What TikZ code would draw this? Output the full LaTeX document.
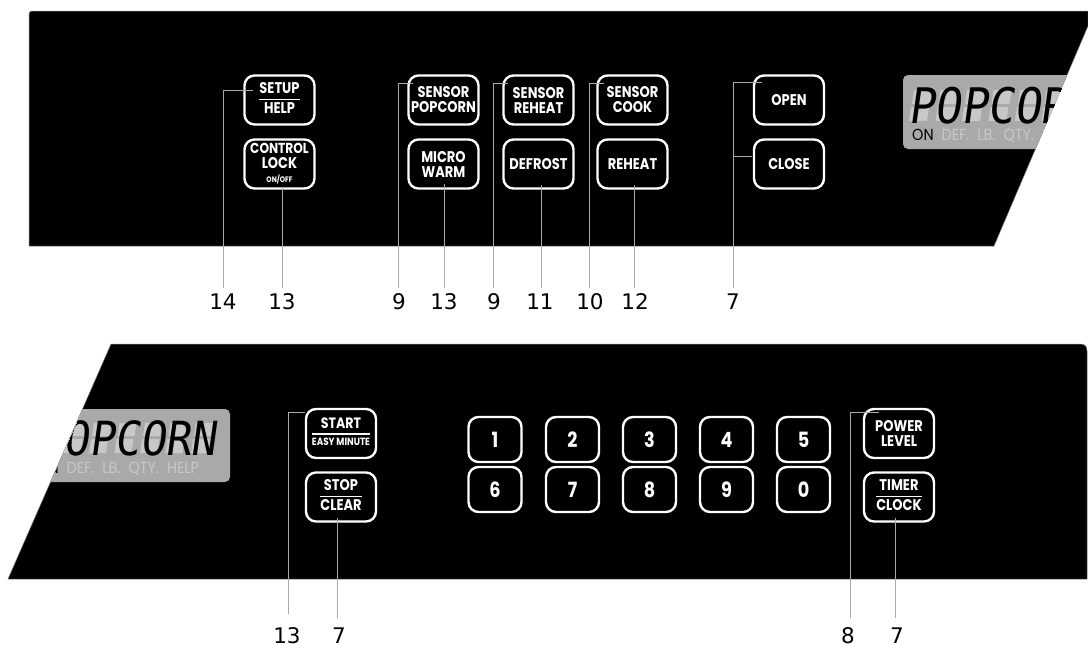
\documentclass[tikz,border=0pt]{standalone}
\usepackage{fontspec}
\usepackage{array}
\setmainfont{DejaVu Sans}
\newfontfamily\btnf[FakeStretch=0.84]{Poppins}
\newfontfamily\lcdf[FakeStretch=0.9,FakeSlant=0.14]{DejaVu Sans Mono}
\newfontfamily\lcdsmall[FakeStretch=0.9]{Poppins}
\newcommand{\btnfr}[2]{\setlength{\arrayrulewidth}{1.6pt}\renewcommand{\arraystretch}{0.8}\setlength{\tabcolsep}{0pt}\begin{tabular}{c}#1\\[1.5pt]\hline\noalign{\vskip 2.5pt}#2\end{tabular}}
\newcommand{\smalltxt}[1]{{\fontsize{8}{8}\selectfont #1}}
\newcommand{\lcdrow}{ON\textcolor{ghost}{\hspace{8pt}DEF.\hspace{8pt}LB.\hspace{8pt}QTY.\hspace{8pt}HELP}}
\definecolor{lcdgray}{HTML}{A9A9A9}
\definecolor{ghost}{HTML}{C8C8C8}
\definecolor{leadgray}{HTML}{AAAAAA}
\tikzset{
  panel/.style={fill=black,draw=gray,line width=0.5pt},
  btn/.style={draw=white,line width=2.4pt,rounded corners=10pt,text=white,inner sep=0pt,minimum width=70pt,minimum height=49pt,align=center,font=\btnf\bfseries\fontsize{15.5}{15}\selectfont},
  keybtn/.style={btn,minimum width=53pt,minimum height=45pt,font=\btnf\bfseries\fontsize{21}{22}\selectfont},
  leader/.style={draw=leadgray,line width=1pt},
  reflabel/.style={font=\fontsize{21.5}{21.5}\selectfont,text=black,inner sep=0pt},
  lcdbox/.style={fill=lcdgray,rounded corners=5pt},
  lcdword/.style={inner sep=0pt,text=black}
}
\begin{document}
\begin{tikzpicture}[x=1pt,y=-1pt]
\useasboundingbox (0,0) rectangle (1088,645);
\fill[white] (0,0) rectangle (1088,645);
% panels
\path[panel] (29,246) -- (29,14) [rounded corners=3pt] -- (29,11) [sharp corners] -- (1088,11) -- (1088,26) -- (994,246) -- cycle;
\path[panel] (8,579) -- (111,344) -- (1080,344) .. controls (1085,344) and (1087,346) .. (1087,351) -- (1087,579) -- cycle;
% top display
\begin{scope}
\clip (29,246) -- (29,11) -- (1088,11) -- (1088,26) -- (994,246) -- cycle;
\fill[lcdbox] (903,75) rectangle (1100,149);
\foreach \i in {0,...,6}{
  \fill[ghost] ({914+26.5*\i},90) -- ({932+26.5*\i},90) -- ({930+26.5*\i},104) -- ({912+26.5*\i},104) -- cycle;
  \fill[ghost] ({911+26.5*\i},107) -- ({929+26.5*\i},107) -- ({927+26.5*\i},121) -- ({909+26.5*\i},121) -- cycle;
}
\node[lcdword,anchor=base west,font=\lcdf\fontsize{49}{49}\selectfont] (lcdtop) at (908,123) {POPCORN};
\node[lcdword,anchor=base west,font=\lcdsmall\fontsize{16}{16}\selectfont] (lcdtopsub) at (912,140.5) {\lcdrow};
\end{scope}
% bottom display
\begin{scope}
\clip (8,579) -- (111,344) -- (1087,344) -- (1087,579) -- cycle;
\fill[lcdbox] (0,409) rectangle (230,482);
\foreach \i in {0,...,6}{
  \fill[ghost] ({43+25.5*\i},423) -- ({60+25.5*\i},423) -- ({58+25.5*\i},436) -- ({41+25.5*\i},436) -- cycle;
  \fill[ghost] ({40+25.5*\i},439) -- ({57+25.5*\i},439) -- ({55+25.5*\i},453) -- ({38+25.5*\i},453) -- cycle;
}
\node[lcdword,anchor=base west,font=\lcdf\fontsize{47}{47}\selectfont] (lcdbot) at (38,455) {POPCORN};
\node[lcdword,anchor=base west,font=\lcdsmall\fontsize{16}{16}\selectfont] (lcdbotsub) at (37,473.5) {\lcdrow};
\end{scope}
% top buttons
\node[btn] (setup) at (279.5,100) {\btnfr{SETUP}{HELP}};
\node[btn] (lock) at (279.5,164) {\fontsize{14.5}{14.5}\selectfont CONTROL\\LOCK\\[-1pt]\smalltxt{ON/OFF}};
\node[btn] (spop) at (443.5,100) {SENSOR\\POPCORN};
\node[btn] (micro) at (443.5,164) {MICRO\\WARM};
\node[btn] (srh) at (538.5,100) {SENSOR\\REHEAT};
\node[btn] (defrost) at (538.5,164) {DEFROST};
\node[btn] (scook) at (632.5,100) {SENSOR\\COOK};
\node[btn] (reheat) at (632.5,164) {REHEAT};
\node[btn] (open) at (789,100) {OPEN};
\node[btn] (close) at (789,164) {CLOSE};
% bottom buttons
\node[btn] (start) at (341,433.5) {\btnfr{\fontsize{15}{15}\selectfont START}{\fontsize{10.5}{11}\selectfont EASY MINUTE}};
\node[btn] (stop) at (341,497) {\btnfr{STOP}{CLEAR}};
\node[keybtn] (k1) at (495,439.5) {1};
\node[keybtn] (k2) at (572.5,439.5) {2};
\node[keybtn] (k3) at (649.5,439.5) {3};
\node[keybtn] (k4) at (726.5,439.5) {4};
\node[keybtn] (k5) at (803.5,439.5) {5};
\node[keybtn] (k6) at (495,489.5) {6};
\node[keybtn] (k7) at (572.5,489.5) {7};
\node[keybtn] (k8) at (649.5,489.5) {8};
\node[keybtn] (k9) at (726.5,489.5) {9};
\node[keybtn] (k0) at (803.5,489.5) {0};
\node[btn] (power) at (899,433.5) {POWER\\LEVEL};
\node[btn] (timer) at (899,497) {\btnfr{TIMER}{CLOCK}};
% reference labels
\node[reflabel] (l14) at (223,302) {14};
\node[reflabel] (l13a) at (282,302) {13};
\node[reflabel] (l9a) at (399,302) {9};
\node[reflabel] (l13b) at (444,302) {13};
\node[reflabel] (l9b) at (494,302) {9};
\node[reflabel] (l11) at (540,302) {11};
\node[reflabel] (l10) at (590,302) {10};
\node[reflabel] (l12) at (635,302) {12};
\node[reflabel] (l7a) at (733,302) {7};
\node[reflabel] (l13c) at (287,636) {13};
\node[reflabel] (l7b) at (339,636) {7};
\node[reflabel] (l8) at (848,636) {8};
\node[reflabel] (l7c) at (897,636) {7};
% leader ends
\foreach \n/\x/\y in {a14/253/90,f14/223/288,a13a/282/188,f13a/282/288,a9a/413/83,f9a/398/288,a13b/444/184,f13b/444/288,a9b/508/83,f9b/493/288,a11/541/185,f11/541/288,a10/604/83,f10/589/288,a12/634/185,f12/634/288,a7o/762/82,a7c/752/156,f7a/733/288,a13c/305/412,f13c/288/614,a7b/337/518,f7b/337/618,a8/879/412,f8/850/618,a7t/895/518,f7t/895/618}
  \coordinate (\n) at (\x,\y);
\draw[leader] (f14) |- (a14);
\draw[leader] (f13a) -- (a13a);
\draw[leader] (f9a) |- (a9a);
\draw[leader] (f13b) -- (a13b);
\draw[leader] (f9b) |- (a9b);
\draw[leader] (f11) -- (a11);
\draw[leader] (f10) |- (a10);
\draw[leader] (f12) -- (a12);
\draw[leader] (f7a) |- (a7o);
\draw[leader] (f7a) |- (a7c);
\draw[leader] (f13c) |- (a13c);
\draw[leader] (f7b) -- (a7b);
\draw[leader] (f8) |- (a8);
\draw[leader] (f7t) -- (a7t);
\end{tikzpicture}
\end{document}
